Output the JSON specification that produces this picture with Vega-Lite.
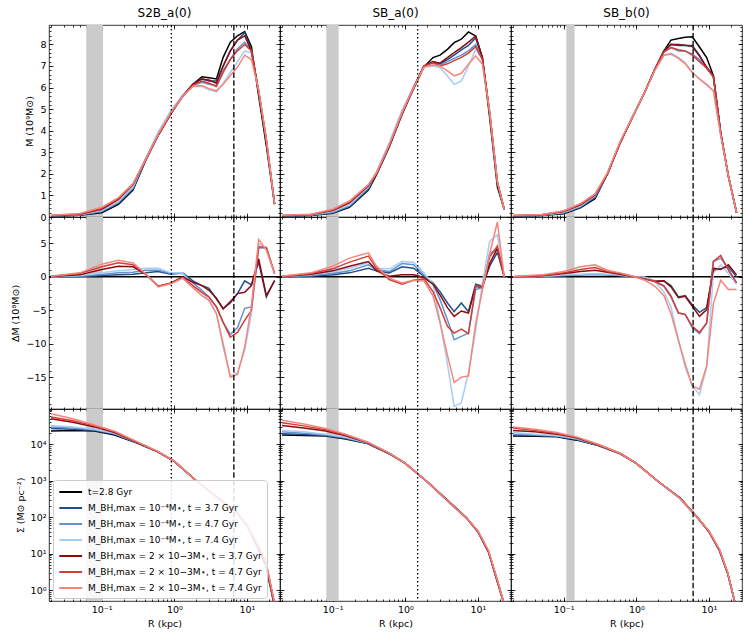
{
"$schema":"https://vega.github.io/schema/vega-lite/v6.json",
"background":"white",
"padding":{"left":10,"top":6,"right":5,"bottom":5},
"config":{
"font":"DejaVu Sans",
"view":{"stroke":"#000000","strokeWidth":0.8},
"axis":{"domain":false,"grid":false,"ticks":true,"tickColor":"#000000","tickSize":-4,"tickWidth":0.8,"labelColor":"#000000","labelFont":"DejaVu Sans","labelFontSize":9.5,"labelPadding":7,"labelOverlap":false,"labelFlush":false,"titleFont":"DejaVu Sans","titleFontSize":9.5,"titleFontWeight":"normal","titleColor":"#000000","titlePadding":5},
"title":{"font":"DejaVu Sans","fontSize":12,"fontWeight":"normal","color":"#000000","anchor":"middle","frame":"group","offset":4}
},
"datasets":{
"v":[{"c":1,"k":"band","r":0.0613,"r2":0.104},{"c":1,"k":"dot","r":0.91},{"c":1,"k":"dash","r":6.6},{"c":2,"k":"band","r":0.0817,"r2":0.121},{"c":2,"k":"dot","r":1.48},{"c":3,"k":"band","r":0.1087,"r2":0.141},{"c":3,"k":"dash","r":6.05}],
"z":[{"v":0}],
"ax":[{"r":1,"v":1}],
"m":[
{"c":1,"s":"a","r":0.02,"v":0.04},{"c":1,"s":"a","r":0.05,"v":0.08},{"c":1,"s":"a","r":0.1,"v":0.2},{"c":1,"s":"a","r":0.17,"v":0.58},{"c":1,"s":"a","r":0.27,"v":1.25},{"c":1,"s":"a","r":0.4,"v":2.6},{"c":1,"s":"a","r":0.6,"v":3.8},{"c":1,"s":"a","r":0.9,"v":4.8},{"c":1,"s":"a","r":1.3,"v":5.6},{"c":1,"s":"a","r":1.8,"v":6.15},{"c":1,"s":"a","r":2.4,"v":6.5},{"c":1,"s":"a","r":3,"v":6.45},{"c":1,"s":"a","r":3.8,"v":6.4},{"c":1,"s":"a","r":4.7,"v":7.4},{"c":1,"s":"a","r":5.9,"v":8.1},{"c":1,"s":"a","r":7.4,"v":8.4},{"c":1,"s":"a","r":9.3,"v":8.6},{"c":1,"s":"a","r":11.5,"v":7.9},{"c":1,"s":"a","r":14.5,"v":5.6},{"c":1,"s":"a","r":18.5,"v":3.3},{"c":1,"s":"a","r":24,"v":0.6},
{"c":1,"s":"b","r":0.02,"v":0.05},{"c":1,"s":"b","r":0.05,"v":0.09},{"c":1,"s":"b","r":0.1,"v":0.24},{"c":1,"s":"b","r":0.17,"v":0.64},{"c":1,"s":"b","r":0.27,"v":1.3},{"c":1,"s":"b","r":0.4,"v":2.62},{"c":1,"s":"b","r":0.6,"v":3.8},{"c":1,"s":"b","r":0.9,"v":4.8},{"c":1,"s":"b","r":1.3,"v":5.6},{"c":1,"s":"b","r":1.8,"v":6.15},{"c":1,"s":"b","r":2.4,"v":6.4},{"c":1,"s":"b","r":3,"v":6.3},{"c":1,"s":"b","r":3.8,"v":6.3},{"c":1,"s":"b","r":4.7,"v":7.0},{"c":1,"s":"b","r":5.9,"v":7.7},{"c":1,"s":"b","r":7.4,"v":8.2},{"c":1,"s":"b","r":9.3,"v":8.55},{"c":1,"s":"b","r":11.5,"v":7.7},{"c":1,"s":"b","r":14.5,"v":5.8},{"c":1,"s":"b","r":18.5,"v":3.5},{"c":1,"s":"b","r":24,"v":0.6},
{"c":1,"s":"c","r":0.02,"v":0.05},{"c":1,"s":"c","r":0.05,"v":0.1},{"c":1,"s":"c","r":0.1,"v":0.27},{"c":1,"s":"c","r":0.17,"v":0.68},{"c":1,"s":"c","r":0.27,"v":1.35},{"c":1,"s":"c","r":0.4,"v":2.65},{"c":1,"s":"c","r":0.6,"v":3.85},{"c":1,"s":"c","r":0.9,"v":4.85},{"c":1,"s":"c","r":1.3,"v":5.6},{"c":1,"s":"c","r":1.8,"v":6.1},{"c":1,"s":"c","r":2.4,"v":6.25},{"c":1,"s":"c","r":3,"v":6.15},{"c":1,"s":"c","r":3.8,"v":6.1},{"c":1,"s":"c","r":4.7,"v":6.8},{"c":1,"s":"c","r":5.9,"v":7.3},{"c":1,"s":"c","r":7.4,"v":7.8},{"c":1,"s":"c","r":9.3,"v":8.1},{"c":1,"s":"c","r":11.5,"v":7.7},{"c":1,"s":"c","r":14.5,"v":5.8},{"c":1,"s":"c","r":18.5,"v":3.6},{"c":1,"s":"c","r":24,"v":0.6},
{"c":1,"s":"d","r":0.02,"v":0.06},{"c":1,"s":"d","r":0.05,"v":0.11},{"c":1,"s":"d","r":0.1,"v":0.3},{"c":1,"s":"d","r":0.17,"v":0.72},{"c":1,"s":"d","r":0.27,"v":1.4},{"c":1,"s":"d","r":0.4,"v":2.7},{"c":1,"s":"d","r":0.6,"v":3.95},{"c":1,"s":"d","r":0.9,"v":4.95},{"c":1,"s":"d","r":1.3,"v":5.65},{"c":1,"s":"d","r":1.8,"v":6.05},{"c":1,"s":"d","r":2.4,"v":6.05},{"c":1,"s":"d","r":3,"v":5.9},{"c":1,"s":"d","r":3.8,"v":5.8},{"c":1,"s":"d","r":4.7,"v":6.2},{"c":1,"s":"d","r":5.9,"v":6.7},{"c":1,"s":"d","r":7.4,"v":7.2},{"c":1,"s":"d","r":9.3,"v":7.7},{"c":1,"s":"d","r":11.5,"v":7.6},{"c":1,"s":"d","r":14.5,"v":5.9},{"c":1,"s":"d","r":18.5,"v":3.6},{"c":1,"s":"d","r":24,"v":0.6},
{"c":1,"s":"e","r":0.02,"v":0.06},{"c":1,"s":"e","r":0.05,"v":0.13},{"c":1,"s":"e","r":0.1,"v":0.36},{"c":1,"s":"e","r":0.17,"v":0.82},{"c":1,"s":"e","r":0.27,"v":1.5},{"c":1,"s":"e","r":0.4,"v":2.65},{"c":1,"s":"e","r":0.6,"v":3.8},{"c":1,"s":"e","r":0.9,"v":4.8},{"c":1,"s":"e","r":1.3,"v":5.6},{"c":1,"s":"e","r":1.8,"v":6.15},{"c":1,"s":"e","r":2.4,"v":6.4},{"c":1,"s":"e","r":3,"v":6.35},{"c":1,"s":"e","r":3.8,"v":6.2},{"c":1,"s":"e","r":4.7,"v":7.0},{"c":1,"s":"e","r":5.9,"v":7.7},{"c":1,"s":"e","r":7.4,"v":8.2},{"c":1,"s":"e","r":9.3,"v":8.4},{"c":1,"s":"e","r":11.5,"v":7.7},{"c":1,"s":"e","r":14.5,"v":5.8},{"c":1,"s":"e","r":18.5,"v":3.5},{"c":1,"s":"e","r":24,"v":0.6},
{"c":1,"s":"f","r":0.02,"v":0.07},{"c":1,"s":"f","r":0.05,"v":0.14},{"c":1,"s":"f","r":0.1,"v":0.4},{"c":1,"s":"f","r":0.17,"v":0.86},{"c":1,"s":"f","r":0.27,"v":1.52},{"c":1,"s":"f","r":0.4,"v":2.65},{"c":1,"s":"f","r":0.6,"v":3.8},{"c":1,"s":"f","r":0.9,"v":4.8},{"c":1,"s":"f","r":1.3,"v":5.6},{"c":1,"s":"f","r":1.8,"v":6.1},{"c":1,"s":"f","r":2.4,"v":6.3},{"c":1,"s":"f","r":3,"v":6.2},{"c":1,"s":"f","r":3.8,"v":6.05},{"c":1,"s":"f","r":4.7,"v":6.7},{"c":1,"s":"f","r":5.9,"v":7.3},{"c":1,"s":"f","r":7.4,"v":7.7},{"c":1,"s":"f","r":9.3,"v":8.0},{"c":1,"s":"f","r":11.5,"v":7.7},{"c":1,"s":"f","r":14.5,"v":5.8},{"c":1,"s":"f","r":18.5,"v":3.6},{"c":1,"s":"f","r":24,"v":0.6},
{"c":1,"s":"g","r":0.02,"v":0.08},{"c":1,"s":"g","r":0.05,"v":0.16},{"c":1,"s":"g","r":0.1,"v":0.45},{"c":1,"s":"g","r":0.17,"v":0.9},{"c":1,"s":"g","r":0.27,"v":1.55},{"c":1,"s":"g","r":0.4,"v":2.65},{"c":1,"s":"g","r":0.6,"v":3.85},{"c":1,"s":"g","r":0.9,"v":4.85},{"c":1,"s":"g","r":1.3,"v":5.6},{"c":1,"s":"g","r":1.8,"v":6.05},{"c":1,"s":"g","r":2.4,"v":6.1},{"c":1,"s":"g","r":3,"v":5.95},{"c":1,"s":"g","r":3.8,"v":5.85},{"c":1,"s":"g","r":4.7,"v":6.15},{"c":1,"s":"g","r":5.9,"v":6.55},{"c":1,"s":"g","r":7.4,"v":6.95},{"c":1,"s":"g","r":9.3,"v":7.5},{"c":1,"s":"g","r":11.5,"v":7.3},{"c":1,"s":"g","r":14.5,"v":5.9},{"c":1,"s":"g","r":18.5,"v":3.6},{"c":1,"s":"g","r":24,"v":0.6},
{"c":2,"s":"a","r":0.02,"v":0.04},{"c":2,"s":"a","r":0.05,"v":0.07},{"c":2,"s":"a","r":0.1,"v":0.17},{"c":2,"s":"a","r":0.17,"v":0.45},{"c":2,"s":"a","r":0.31,"v":1.25},{"c":2,"s":"a","r":0.4,"v":1.95},{"c":2,"s":"a","r":0.6,"v":3.25},{"c":2,"s":"a","r":0.9,"v":4.75},{"c":2,"s":"a","r":1.3,"v":5.95},{"c":2,"s":"a","r":1.8,"v":6.95},{"c":2,"s":"a","r":2.4,"v":7.39},{"c":2,"s":"a","r":3,"v":7.5},{"c":2,"s":"a","r":3.8,"v":7.77},{"c":2,"s":"a","r":4.7,"v":8.08},{"c":2,"s":"a","r":5.9,"v":8.24},{"c":2,"s":"a","r":7.4,"v":8.58},{"c":2,"s":"a","r":9.3,"v":8.39},{"c":2,"s":"a","r":11.5,"v":7.39},{"c":2,"s":"a","r":14.5,"v":4.6},{"c":2,"s":"a","r":18.5,"v":1.4},{"c":2,"s":"a","r":23,"v":0.35},
{"c":2,"s":"b","r":0.02,"v":0.05},{"c":2,"s":"b","r":0.05,"v":0.08},{"c":2,"s":"b","r":0.1,"v":0.2},{"c":2,"s":"b","r":0.17,"v":0.48},{"c":2,"s":"b","r":0.31,"v":1.3},{"c":2,"s":"b","r":0.4,"v":2.0},{"c":2,"s":"b","r":0.6,"v":3.3},{"c":2,"s":"b","r":0.9,"v":4.8},{"c":2,"s":"b","r":1.3,"v":6.0},{"c":2,"s":"b","r":1.8,"v":7.0},{"c":2,"s":"b","r":2.4,"v":7.2},{"c":2,"s":"b","r":3,"v":7.1},{"c":2,"s":"b","r":3.8,"v":7.3},{"c":2,"s":"b","r":4.7,"v":7.5},{"c":2,"s":"b","r":5.9,"v":7.75},{"c":2,"s":"b","r":7.4,"v":7.95},{"c":2,"s":"b","r":9.3,"v":8.3},{"c":2,"s":"b","r":11.5,"v":7.35},{"c":2,"s":"b","r":14.5,"v":4.8},{"c":2,"s":"b","r":18.5,"v":1.6},{"c":2,"s":"b","r":23,"v":0.35},
{"c":2,"s":"c","r":0.02,"v":0.05},{"c":2,"s":"c","r":0.05,"v":0.09},{"c":2,"s":"c","r":0.1,"v":0.22},{"c":2,"s":"c","r":0.17,"v":0.52},{"c":2,"s":"c","r":0.31,"v":1.35},{"c":2,"s":"c","r":0.4,"v":2.05},{"c":2,"s":"c","r":0.6,"v":3.35},{"c":2,"s":"c","r":0.9,"v":4.85},{"c":2,"s":"c","r":1.3,"v":6.0},{"c":2,"s":"c","r":1.8,"v":7.0},{"c":2,"s":"c","r":2.4,"v":7.15},{"c":2,"s":"c","r":3,"v":7.05},{"c":2,"s":"c","r":3.8,"v":7.2},{"c":2,"s":"c","r":4.7,"v":7.35},{"c":2,"s":"c","r":5.9,"v":7.5},{"c":2,"s":"c","r":7.4,"v":7.7},{"c":2,"s":"c","r":9.3,"v":8.0},{"c":2,"s":"c","r":11.5,"v":7.3},{"c":2,"s":"c","r":14.5,"v":4.8},{"c":2,"s":"c","r":18.5,"v":1.6},{"c":2,"s":"c","r":23,"v":0.35},
{"c":2,"s":"d","r":0.02,"v":0.06},{"c":2,"s":"d","r":0.05,"v":0.1},{"c":2,"s":"d","r":0.1,"v":0.25},{"c":2,"s":"d","r":0.17,"v":0.56},{"c":2,"s":"d","r":0.31,"v":1.4},{"c":2,"s":"d","r":0.4,"v":2.1},{"c":2,"s":"d","r":0.6,"v":3.45},{"c":2,"s":"d","r":0.9,"v":4.95},{"c":2,"s":"d","r":1.3,"v":6.05},{"c":2,"s":"d","r":1.8,"v":6.95},{"c":2,"s":"d","r":2.4,"v":7.0},{"c":2,"s":"d","r":3,"v":6.92},{"c":2,"s":"d","r":3.8,"v":6.54},{"c":2,"s":"d","r":4.7,"v":6.15},{"c":2,"s":"d","r":5.9,"v":6.3},{"c":2,"s":"d","r":7.4,"v":7.0},{"c":2,"s":"d","r":9.3,"v":7.77},{"c":2,"s":"d","r":11.5,"v":7.31},{"c":2,"s":"d","r":14.5,"v":4.9},{"c":2,"s":"d","r":18.5,"v":1.65},{"c":2,"s":"d","r":23,"v":0.35},
{"c":2,"s":"e","r":0.02,"v":0.06},{"c":2,"s":"e","r":0.05,"v":0.11},{"c":2,"s":"e","r":0.1,"v":0.3},{"c":2,"s":"e","r":0.17,"v":0.66},{"c":2,"s":"e","r":0.31,"v":1.45},{"c":2,"s":"e","r":0.4,"v":2.0},{"c":2,"s":"e","r":0.6,"v":3.3},{"c":2,"s":"e","r":0.9,"v":4.8},{"c":2,"s":"e","r":1.3,"v":6.0},{"c":2,"s":"e","r":1.8,"v":7.0},{"c":2,"s":"e","r":2.4,"v":7.19},{"c":2,"s":"e","r":3,"v":7.13},{"c":2,"s":"e","r":3.8,"v":7.39},{"c":2,"s":"e","r":4.7,"v":7.62},{"c":2,"s":"e","r":5.9,"v":7.85},{"c":2,"s":"e","r":7.4,"v":8.11},{"c":2,"s":"e","r":9.3,"v":8.39},{"c":2,"s":"e","r":11.5,"v":7.39},{"c":2,"s":"e","r":14.5,"v":4.8},{"c":2,"s":"e","r":18.5,"v":1.6},{"c":2,"s":"e","r":23,"v":0.35},
{"c":2,"s":"f","r":0.02,"v":0.07},{"c":2,"s":"f","r":0.05,"v":0.12},{"c":2,"s":"f","r":0.1,"v":0.33},{"c":2,"s":"f","r":0.17,"v":0.7},{"c":2,"s":"f","r":0.31,"v":1.48},{"c":2,"s":"f","r":0.4,"v":2.0},{"c":2,"s":"f","r":0.6,"v":3.3},{"c":2,"s":"f","r":0.9,"v":4.8},{"c":2,"s":"f","r":1.3,"v":6.0},{"c":2,"s":"f","r":1.8,"v":7.0},{"c":2,"s":"f","r":2.4,"v":7.15},{"c":2,"s":"f","r":3,"v":7.0},{"c":2,"s":"f","r":3.8,"v":7.1},{"c":2,"s":"f","r":4.7,"v":7.25},{"c":2,"s":"f","r":5.9,"v":7.4},{"c":2,"s":"f","r":7.4,"v":7.6},{"c":2,"s":"f","r":9.3,"v":7.9},{"c":2,"s":"f","r":11.5,"v":7.3},{"c":2,"s":"f","r":14.5,"v":4.8},{"c":2,"s":"f","r":18.5,"v":1.6},{"c":2,"s":"f","r":23,"v":0.35},
{"c":2,"s":"g","r":0.02,"v":0.08},{"c":2,"s":"g","r":0.05,"v":0.13},{"c":2,"s":"g","r":0.1,"v":0.36},{"c":2,"s":"g","r":0.17,"v":0.74},{"c":2,"s":"g","r":0.31,"v":1.5},{"c":2,"s":"g","r":0.4,"v":2.05},{"c":2,"s":"g","r":0.6,"v":3.35},{"c":2,"s":"g","r":0.9,"v":4.85},{"c":2,"s":"g","r":1.3,"v":6.0},{"c":2,"s":"g","r":1.8,"v":6.95},{"c":2,"s":"g","r":2.4,"v":7.05},{"c":2,"s":"g","r":3,"v":7.0},{"c":2,"s":"g","r":3.8,"v":6.77},{"c":2,"s":"g","r":4.7,"v":6.54},{"c":2,"s":"g","r":5.9,"v":6.66},{"c":2,"s":"g","r":7.4,"v":7.08},{"c":2,"s":"g","r":9.3,"v":7.47},{"c":2,"s":"g","r":11.5,"v":7.08},{"c":2,"s":"g","r":14.5,"v":4.9},{"c":2,"s":"g","r":18.5,"v":1.65},{"c":2,"s":"g","r":23,"v":0.35},
{"c":3,"s":"a","r":0.02,"v":0.04},{"c":3,"s":"a","r":0.05,"v":0.07},{"c":3,"s":"a","r":0.1,"v":0.15},{"c":3,"s":"a","r":0.17,"v":0.42},{"c":3,"s":"a","r":0.27,"v":0.85},{"c":3,"s":"a","r":0.4,"v":2.0},{"c":3,"s":"a","r":0.6,"v":3.45},{"c":3,"s":"a","r":0.9,"v":4.68},{"c":3,"s":"a","r":1.3,"v":5.77},{"c":3,"s":"a","r":1.8,"v":6.85},{"c":3,"s":"a","r":2.4,"v":7.7},{"c":3,"s":"a","r":3,"v":8.2},{"c":3,"s":"a","r":3.8,"v":8.27},{"c":3,"s":"a","r":4.7,"v":8.33},{"c":3,"s":"a","r":5.9,"v":8.35},{"c":3,"s":"a","r":7.4,"v":7.88},{"c":3,"s":"a","r":9.3,"v":7.39},{"c":3,"s":"a","r":11.5,"v":6.55},{"c":3,"s":"a","r":14.5,"v":3.9},{"c":3,"s":"a","r":18.5,"v":1.9},{"c":3,"s":"a","r":24,"v":0.2},
{"c":3,"s":"b","r":0.02,"v":0.05},{"c":3,"s":"b","r":0.05,"v":0.08},{"c":3,"s":"b","r":0.1,"v":0.18},{"c":3,"s":"b","r":0.17,"v":0.45},{"c":3,"s":"b","r":0.27,"v":0.9},{"c":3,"s":"b","r":0.4,"v":2.0},{"c":3,"s":"b","r":0.6,"v":3.45},{"c":3,"s":"b","r":0.9,"v":4.68},{"c":3,"s":"b","r":1.3,"v":5.77},{"c":3,"s":"b","r":1.8,"v":6.85},{"c":3,"s":"b","r":2.4,"v":7.7},{"c":3,"s":"b","r":3,"v":8.0},{"c":3,"s":"b","r":3.8,"v":7.95},{"c":3,"s":"b","r":4.7,"v":7.95},{"c":3,"s":"b","r":5.9,"v":7.95},{"c":3,"s":"b","r":7.4,"v":7.5},{"c":3,"s":"b","r":9.3,"v":6.9},{"c":3,"s":"b","r":11.5,"v":6.5},{"c":3,"s":"b","r":14.5,"v":3.9},{"c":3,"s":"b","r":18.5,"v":1.9},{"c":3,"s":"b","r":24,"v":0.2},
{"c":3,"s":"c","r":0.02,"v":0.05},{"c":3,"s":"c","r":0.05,"v":0.08},{"c":3,"s":"c","r":0.1,"v":0.2},{"c":3,"s":"c","r":0.17,"v":0.48},{"c":3,"s":"c","r":0.27,"v":0.95},{"c":3,"s":"c","r":0.4,"v":2.0},{"c":3,"s":"c","r":0.6,"v":3.45},{"c":3,"s":"c","r":0.9,"v":4.68},{"c":3,"s":"c","r":1.3,"v":5.77},{"c":3,"s":"c","r":1.8,"v":6.85},{"c":3,"s":"c","r":2.4,"v":7.65},{"c":3,"s":"c","r":3,"v":7.85},{"c":3,"s":"c","r":3.8,"v":7.7},{"c":3,"s":"c","r":4.7,"v":7.7},{"c":3,"s":"c","r":5.9,"v":7.55},{"c":3,"s":"c","r":7.4,"v":7.3},{"c":3,"s":"c","r":9.3,"v":6.9},{"c":3,"s":"c","r":11.5,"v":6.5},{"c":3,"s":"c","r":14.5,"v":3.9},{"c":3,"s":"c","r":18.5,"v":1.9},{"c":3,"s":"c","r":24,"v":0.2},
{"c":3,"s":"d","r":0.02,"v":0.06},{"c":3,"s":"d","r":0.05,"v":0.09},{"c":3,"s":"d","r":0.1,"v":0.22},{"c":3,"s":"d","r":0.17,"v":0.52},{"c":3,"s":"d","r":0.27,"v":1.0},{"c":3,"s":"d","r":0.4,"v":2.05},{"c":3,"s":"d","r":0.6,"v":3.5},{"c":3,"s":"d","r":0.9,"v":4.7},{"c":3,"s":"d","r":1.3,"v":5.77},{"c":3,"s":"d","r":1.8,"v":6.8},{"c":3,"s":"d","r":2.4,"v":7.5},{"c":3,"s":"d","r":3,"v":7.6},{"c":3,"s":"d","r":3.8,"v":7.4},{"c":3,"s":"d","r":4.7,"v":7.16},{"c":3,"s":"d","r":5.9,"v":6.7},{"c":3,"s":"d","r":7.4,"v":6.4},{"c":3,"s":"d","r":9.3,"v":6.1},{"c":3,"s":"d","r":11.5,"v":5.85},{"c":3,"s":"d","r":14.5,"v":3.8},{"c":3,"s":"d","r":18.5,"v":1.9},{"c":3,"s":"d","r":24,"v":0.2},
{"c":3,"s":"e","r":0.02,"v":0.06},{"c":3,"s":"e","r":0.05,"v":0.1},{"c":3,"s":"e","r":0.1,"v":0.25},{"c":3,"s":"e","r":0.17,"v":0.56},{"c":3,"s":"e","r":0.27,"v":1.02},{"c":3,"s":"e","r":0.4,"v":2.0},{"c":3,"s":"e","r":0.6,"v":3.45},{"c":3,"s":"e","r":0.9,"v":4.68},{"c":3,"s":"e","r":1.3,"v":5.77},{"c":3,"s":"e","r":1.8,"v":6.85},{"c":3,"s":"e","r":2.4,"v":7.7},{"c":3,"s":"e","r":3,"v":8.0},{"c":3,"s":"e","r":3.8,"v":8.0},{"c":3,"s":"e","r":4.7,"v":7.96},{"c":3,"s":"e","r":5.9,"v":7.9},{"c":3,"s":"e","r":7.4,"v":7.46},{"c":3,"s":"e","r":9.3,"v":6.95},{"c":3,"s":"e","r":11.5,"v":6.55},{"c":3,"s":"e","r":14.5,"v":3.9},{"c":3,"s":"e","r":18.5,"v":1.9},{"c":3,"s":"e","r":24,"v":0.2},
{"c":3,"s":"f","r":0.02,"v":0.07},{"c":3,"s":"f","r":0.05,"v":0.11},{"c":3,"s":"f","r":0.1,"v":0.27},{"c":3,"s":"f","r":0.17,"v":0.6},{"c":3,"s":"f","r":0.27,"v":1.05},{"c":3,"s":"f","r":0.4,"v":2.0},{"c":3,"s":"f","r":0.6,"v":3.45},{"c":3,"s":"f","r":0.9,"v":4.68},{"c":3,"s":"f","r":1.3,"v":5.77},{"c":3,"s":"f","r":1.8,"v":6.85},{"c":3,"s":"f","r":2.4,"v":7.65},{"c":3,"s":"f","r":3,"v":7.85},{"c":3,"s":"f","r":3.8,"v":7.75},{"c":3,"s":"f","r":4.7,"v":7.7},{"c":3,"s":"f","r":5.9,"v":7.5},{"c":3,"s":"f","r":7.4,"v":7.2},{"c":3,"s":"f","r":9.3,"v":6.9},{"c":3,"s":"f","r":11.5,"v":6.5},{"c":3,"s":"f","r":14.5,"v":3.9},{"c":3,"s":"f","r":18.5,"v":1.9},{"c":3,"s":"f","r":24,"v":0.2},
{"c":3,"s":"g","r":0.02,"v":0.08},{"c":3,"s":"g","r":0.05,"v":0.12},{"c":3,"s":"g","r":0.1,"v":0.29},{"c":3,"s":"g","r":0.17,"v":0.62},{"c":3,"s":"g","r":0.27,"v":1.07},{"c":3,"s":"g","r":0.4,"v":2.05},{"c":3,"s":"g","r":0.6,"v":3.5},{"c":3,"s":"g","r":0.9,"v":4.7},{"c":3,"s":"g","r":1.3,"v":5.77},{"c":3,"s":"g","r":1.8,"v":6.8},{"c":3,"s":"g","r":2.4,"v":7.5},{"c":3,"s":"g","r":3,"v":7.55},{"c":3,"s":"g","r":3.8,"v":7.35},{"c":3,"s":"g","r":4.7,"v":7.1},{"c":3,"s":"g","r":5.9,"v":6.7},{"c":3,"s":"g","r":7.4,"v":6.4},{"c":3,"s":"g","r":9.3,"v":6.15},{"c":3,"s":"g","r":11.5,"v":5.85},{"c":3,"s":"g","r":14.5,"v":3.8},{"c":3,"s":"g","r":18.5,"v":1.9},{"c":3,"s":"g","r":24,"v":0.2}
],
"d":[
{"c":1,"s":"b","r":0.02,"v":0},{"c":1,"s":"b","r":0.05,"v":0.05},{"c":1,"s":"b","r":0.1,"v":0.2},{"c":1,"s":"b","r":0.17,"v":0.3},{"c":1,"s":"b","r":0.27,"v":0.4},{"c":1,"s":"b","r":0.4,"v":0.6},{"c":1,"s":"b","r":0.6,"v":0.8},{"c":1,"s":"b","r":0.9,"v":0.4},{"c":1,"s":"b","r":1.3,"v":0.6},{"c":1,"s":"b","r":1.8,"v":-0.6},{"c":1,"s":"b","r":2.4,"v":-1.3},{"c":1,"s":"b","r":3,"v":-1.7},{"c":1,"s":"b","r":3.8,"v":-3.3},{"c":1,"s":"b","r":4.7,"v":-4.7},{"c":1,"s":"b","r":5.9,"v":-3.9},{"c":1,"s":"b","r":7.4,"v":-2.5},{"c":1,"s":"b","r":9.3,"v":-0.6},{"c":1,"s":"b","r":11.5,"v":-1.2},{"c":1,"s":"b","r":14.5,"v":2.2},{"c":1,"s":"b","r":18.5,"v":-3.0},{"c":1,"s":"b","r":24,"v":-0.5},
{"c":1,"s":"c","r":0.02,"v":0},{"c":1,"s":"c","r":0.05,"v":0.1},{"c":1,"s":"c","r":0.1,"v":0.35},{"c":1,"s":"c","r":0.17,"v":0.6},{"c":1,"s":"c","r":0.27,"v":0.7},{"c":1,"s":"c","r":0.4,"v":1.0},{"c":1,"s":"c","r":0.6,"v":1.0},{"c":1,"s":"c","r":0.9,"v":0.5},{"c":1,"s":"c","r":1.3,"v":0.5},{"c":1,"s":"c","r":1.8,"v":-0.9},{"c":1,"s":"c","r":2.4,"v":-2.0},{"c":1,"s":"c","r":3,"v":-3.0},{"c":1,"s":"c","r":3.8,"v":-4.5},{"c":1,"s":"c","r":4.7,"v":-6.8},{"c":1,"s":"c","r":5.9,"v":-8.6},{"c":1,"s":"c","r":7.4,"v":-7.6},{"c":1,"s":"c","r":9.3,"v":-4.7},{"c":1,"s":"c","r":11.5,"v":-4.5},{"c":1,"s":"c","r":14.5,"v":4.3},{"c":1,"s":"c","r":18.5,"v":4.3},{"c":1,"s":"c","r":24,"v":0.5},
{"c":1,"s":"d","r":0.02,"v":0},{"c":1,"s":"d","r":0.05,"v":0.2},{"c":1,"s":"d","r":0.1,"v":0.6},{"c":1,"s":"d","r":0.17,"v":0.9},{"c":1,"s":"d","r":0.27,"v":1.1},{"c":1,"s":"d","r":0.4,"v":1.3},{"c":1,"s":"d","r":0.6,"v":1.3},{"c":1,"s":"d","r":0.9,"v":0.6},{"c":1,"s":"d","r":1.3,"v":0.6},{"c":1,"s":"d","r":1.8,"v":-1.5},{"c":1,"s":"d","r":2.4,"v":-2.3},{"c":1,"s":"d","r":3,"v":-3.5},{"c":1,"s":"d","r":3.8,"v":-5.5},{"c":1,"s":"d","r":4.7,"v":-10.5},{"c":1,"s":"d","r":5.9,"v":-14.8},{"c":1,"s":"d","r":7.4,"v":-14.3},{"c":1,"s":"d","r":9.3,"v":-11.0},{"c":1,"s":"d","r":11.5,"v":-5.5},{"c":1,"s":"d","r":14.5,"v":5.0},{"c":1,"s":"d","r":18.5,"v":4.2},{"c":1,"s":"d","r":24,"v":0.5},
{"c":1,"s":"e","r":0.02,"v":0.05},{"c":1,"s":"e","r":0.05,"v":0.3},{"c":1,"s":"e","r":0.1,"v":1.1},{"c":1,"s":"e","r":0.17,"v":1.6},{"c":1,"s":"e","r":0.27,"v":1.5},{"c":1,"s":"e","r":0.4,"v":0.4},{"c":1,"s":"e","r":0.6,"v":-1.4},{"c":1,"s":"e","r":0.9,"v":-0.9},{"c":1,"s":"e","r":1.3,"v":0.0},{"c":1,"s":"e","r":1.8,"v":-0.8},{"c":1,"s":"e","r":2.4,"v":-1.3},{"c":1,"s":"e","r":3,"v":-2.0},{"c":1,"s":"e","r":3.8,"v":-3.2},{"c":1,"s":"e","r":4.7,"v":-4.8},{"c":1,"s":"e","r":5.9,"v":-3.7},{"c":1,"s":"e","r":7.4,"v":-2.5},{"c":1,"s":"e","r":9.3,"v":-2.3},{"c":1,"s":"e","r":11.5,"v":-1.3},{"c":1,"s":"e","r":14.5,"v":2.7},{"c":1,"s":"e","r":18.5,"v":-2.8},{"c":1,"s":"e","r":24,"v":-0.6},
{"c":1,"s":"f","r":0.02,"v":0.1},{"c":1,"s":"f","r":0.05,"v":0.5},{"c":1,"s":"f","r":0.1,"v":1.5},{"c":1,"s":"f","r":0.17,"v":2.1},{"c":1,"s":"f","r":0.27,"v":1.8},{"c":1,"s":"f","r":0.4,"v":0.45},{"c":1,"s":"f","r":0.6,"v":-1.4},{"c":1,"s":"f","r":0.9,"v":-1.0},{"c":1,"s":"f","r":1.3,"v":-0.1},{"c":1,"s":"f","r":1.8,"v":-1.3},{"c":1,"s":"f","r":2.4,"v":-2.3},{"c":1,"s":"f","r":3,"v":-3.0},{"c":1,"s":"f","r":3.8,"v":-4.5},{"c":1,"s":"f","r":4.7,"v":-6.8},{"c":1,"s":"f","r":5.9,"v":-9.0},{"c":1,"s":"f","r":7.4,"v":-8.3},{"c":1,"s":"f","r":9.3,"v":-6.5},{"c":1,"s":"f","r":11.5,"v":-5.0},{"c":1,"s":"f","r":14.5,"v":4.5},{"c":1,"s":"f","r":18.5,"v":4.4},{"c":1,"s":"f","r":24,"v":0.5},
{"c":1,"s":"g","r":0.02,"v":0.1},{"c":1,"s":"g","r":0.05,"v":0.6},{"c":1,"s":"g","r":0.1,"v":1.9},{"c":1,"s":"g","r":0.17,"v":2.5},{"c":1,"s":"g","r":0.27,"v":2.1},{"c":1,"s":"g","r":0.4,"v":0.5},{"c":1,"s":"g","r":0.6,"v":-1.5},{"c":1,"s":"g","r":0.9,"v":-1.0},{"c":1,"s":"g","r":1.3,"v":-0.2},{"c":1,"s":"g","r":1.8,"v":-1.6},{"c":1,"s":"g","r":2.4,"v":-2.8},{"c":1,"s":"g","r":3,"v":-3.5},{"c":1,"s":"g","r":3.8,"v":-5.5},{"c":1,"s":"g","r":4.7,"v":-10.0},{"c":1,"s":"g","r":5.9,"v":-15.0},{"c":1,"s":"g","r":7.4,"v":-14.6},{"c":1,"s":"g","r":9.3,"v":-10.5},{"c":1,"s":"g","r":11.5,"v":-4.5},{"c":1,"s":"g","r":14.5,"v":5.6},{"c":1,"s":"g","r":18.5,"v":4.0},{"c":1,"s":"g","r":24,"v":0.5},
{"c":2,"s":"b","r":0.02,"v":0.02},{"c":2,"s":"b","r":0.05,"v":0.1},{"c":2,"s":"b","r":0.1,"v":0.3},{"c":2,"s":"b","r":0.17,"v":0.6},{"c":2,"s":"b","r":0.31,"v":1.3},{"c":2,"s":"b","r":0.4,"v":0.9},{"c":2,"s":"b","r":0.6,"v":0.6},{"c":2,"s":"b","r":0.9,"v":1.5},{"c":2,"s":"b","r":1.3,"v":1.3},{"c":2,"s":"b","r":1.8,"v":0.1},{"c":2,"s":"b","r":2.4,"v":-0.9},{"c":2,"s":"b","r":3,"v":-2.2},{"c":2,"s":"b","r":3.8,"v":-3.9},{"c":2,"s":"b","r":4.7,"v":-5.2},{"c":2,"s":"b","r":5.9,"v":-3.9},{"c":2,"s":"b","r":7.4,"v":-5.2},{"c":2,"s":"b","r":9.3,"v":-1.1},{"c":2,"s":"b","r":11.5,"v":-1.4},{"c":2,"s":"b","r":14.5,"v":1.6},{"c":2,"s":"b","r":18.5,"v":3.7},{"c":2,"s":"b","r":23,"v":0},
{"c":2,"s":"c","r":0.02,"v":0.03},{"c":2,"s":"c","r":0.05,"v":0.2},{"c":2,"s":"c","r":0.1,"v":0.5},{"c":2,"s":"c","r":0.17,"v":0.9},{"c":2,"s":"c","r":0.31,"v":1.8},{"c":2,"s":"c","r":0.4,"v":1.1},{"c":2,"s":"c","r":0.6,"v":0.8},{"c":2,"s":"c","r":0.9,"v":2.0},{"c":2,"s":"c","r":1.3,"v":1.8},{"c":2,"s":"c","r":1.8,"v":0.3},{"c":2,"s":"c","r":2.4,"v":-1.0},{"c":2,"s":"c","r":3,"v":-3.4},{"c":2,"s":"c","r":3.8,"v":-6.4},{"c":2,"s":"c","r":4.7,"v":-9.4},{"c":2,"s":"c","r":5.9,"v":-8.9},{"c":2,"s":"c","r":7.4,"v":-8.4},{"c":2,"s":"c","r":9.3,"v":-1.9},{"c":2,"s":"c","r":11.5,"v":-1.6},{"c":2,"s":"c","r":14.5,"v":3.5},{"c":2,"s":"c","r":18.5,"v":4.1},{"c":2,"s":"c","r":23,"v":0},
{"c":2,"s":"d","r":0.02,"v":0.05},{"c":2,"s":"d","r":0.05,"v":0.3},{"c":2,"s":"d","r":0.1,"v":0.8},{"c":2,"s":"d","r":0.17,"v":1.3},{"c":2,"s":"d","r":0.31,"v":2.1},{"c":2,"s":"d","r":0.4,"v":1.3},{"c":2,"s":"d","r":0.6,"v":1.2},{"c":2,"s":"d","r":0.9,"v":2.3},{"c":2,"s":"d","r":1.3,"v":2.2},{"c":2,"s":"d","r":1.8,"v":0.6},{"c":2,"s":"d","r":2.4,"v":-1.1},{"c":2,"s":"d","r":3,"v":-6.6},{"c":2,"s":"d","r":3.8,"v":-13.0},{"c":2,"s":"d","r":4.7,"v":-19.4},{"c":2,"s":"d","r":5.9,"v":-18.8},{"c":2,"s":"d","r":7.4,"v":-14.3},{"c":2,"s":"d","r":9.3,"v":-8.0},{"c":2,"s":"d","r":11.5,"v":-1.0},{"c":2,"s":"d","r":14.5,"v":5.3},{"c":2,"s":"d","r":18.5,"v":6.3},{"c":2,"s":"d","r":23,"v":0},
{"c":2,"s":"e","r":0.02,"v":0.05},{"c":2,"s":"e","r":0.05,"v":0.4},{"c":2,"s":"e","r":0.1,"v":0.9},{"c":2,"s":"e","r":0.17,"v":1.6},{"c":2,"s":"e","r":0.31,"v":2.3},{"c":2,"s":"e","r":0.4,"v":0.9},{"c":2,"s":"e","r":0.6,"v":0.1},{"c":2,"s":"e","r":0.9,"v":0.3},{"c":2,"s":"e","r":1.3,"v":0.3},{"c":2,"s":"e","r":1.8,"v":-0.1},{"c":2,"s":"e","r":2.4,"v":-1.1},{"c":2,"s":"e","r":3,"v":-2.7},{"c":2,"s":"e","r":3.8,"v":-4.6},{"c":2,"s":"e","r":4.7,"v":-5.9},{"c":2,"s":"e","r":5.9,"v":-5.1},{"c":2,"s":"e","r":7.4,"v":-5.4},{"c":2,"s":"e","r":9.3,"v":-1.4},{"c":2,"s":"e","r":11.5,"v":-1.6},{"c":2,"s":"e","r":14.5,"v":2.0},{"c":2,"s":"e","r":18.5,"v":4.3},{"c":2,"s":"e","r":23,"v":0},
{"c":2,"s":"f","r":0.02,"v":0.1},{"c":2,"s":"f","r":0.05,"v":0.5},{"c":2,"s":"f","r":0.1,"v":1.2},{"c":2,"s":"f","r":0.17,"v":2.2},{"c":2,"s":"f","r":0.31,"v":3.1},{"c":2,"s":"f","r":0.4,"v":1.3},{"c":2,"s":"f","r":0.6,"v":-0.4},{"c":2,"s":"f","r":0.9,"v":-1.1},{"c":2,"s":"f","r":1.3,"v":-0.5},{"c":2,"s":"f","r":1.8,"v":-0.3},{"c":2,"s":"f","r":2.4,"v":-2.2},{"c":2,"s":"f","r":3,"v":-4.6},{"c":2,"s":"f","r":3.8,"v":-7.4},{"c":2,"s":"f","r":4.7,"v":-8.4},{"c":2,"s":"f","r":5.9,"v":-7.8},{"c":2,"s":"f","r":7.4,"v":-8.5},{"c":2,"s":"f","r":9.3,"v":-1.4},{"c":2,"s":"f","r":11.5,"v":-1.6},{"c":2,"s":"f","r":14.5,"v":3.0},{"c":2,"s":"f","r":18.5,"v":4.6},{"c":2,"s":"f","r":23,"v":0},
{"c":2,"s":"g","r":0.02,"v":0.1},{"c":2,"s":"g","r":0.05,"v":0.6},{"c":2,"s":"g","r":0.1,"v":1.6},{"c":2,"s":"g","r":0.17,"v":2.8},{"c":2,"s":"g","r":0.31,"v":3.6},{"c":2,"s":"g","r":0.4,"v":1.6},{"c":2,"s":"g","r":0.6,"v":-0.2},{"c":2,"s":"g","r":0.9,"v":-0.9},{"c":2,"s":"g","r":1.3,"v":-0.5},{"c":2,"s":"g","r":1.8,"v":-0.6},{"c":2,"s":"g","r":2.4,"v":-2.8},{"c":2,"s":"g","r":3,"v":-6.8},{"c":2,"s":"g","r":3.8,"v":-11.7},{"c":2,"s":"g","r":4.7,"v":-15.8},{"c":2,"s":"g","r":5.9,"v":-15.0},{"c":2,"s":"g","r":7.4,"v":-14.8},{"c":2,"s":"g","r":9.3,"v":-7.0},{"c":2,"s":"g","r":11.5,"v":-2.0},{"c":2,"s":"g","r":14.5,"v":3.5},{"c":2,"s":"g","r":18.5,"v":8.2},{"c":2,"s":"g","r":23,"v":0},
{"c":3,"s":"b","r":0.02,"v":0.01},{"c":3,"s":"b","r":0.05,"v":0.05},{"c":3,"s":"b","r":0.1,"v":0.15},{"c":3,"s":"b","r":0.17,"v":0.3},{"c":3,"s":"b","r":0.27,"v":0.4},{"c":3,"s":"b","r":0.4,"v":0.3},{"c":3,"s":"b","r":0.6,"v":0.2},{"c":3,"s":"b","r":0.9,"v":0.0},{"c":3,"s":"b","r":1.3,"v":-0.2},{"c":3,"s":"b","r":1.8,"v":-0.6},{"c":3,"s":"b","r":2.4,"v":-0.6},{"c":3,"s":"b","r":3,"v":-1.3},{"c":3,"s":"b","r":3.8,"v":-3.0},{"c":3,"s":"b","r":4.7,"v":-2.8},{"c":3,"s":"b","r":5.9,"v":-4.2},{"c":3,"s":"b","r":7.4,"v":-5.3},{"c":3,"s":"b","r":9.3,"v":-4.6},{"c":3,"s":"b","r":11.5,"v":1.0},{"c":3,"s":"b","r":14.5,"v":1.2},{"c":3,"s":"b","r":18.5,"v":1.5},{"c":3,"s":"b","r":24,"v":0.0},
{"c":3,"s":"c","r":0.02,"v":0.02},{"c":3,"s":"c","r":0.05,"v":0.1},{"c":3,"s":"c","r":0.1,"v":0.2},{"c":3,"s":"c","r":0.17,"v":0.3},{"c":3,"s":"c","r":0.27,"v":0.4},{"c":3,"s":"c","r":0.4,"v":0.3},{"c":3,"s":"c","r":0.6,"v":0.2},{"c":3,"s":"c","r":0.9,"v":0.0},{"c":3,"s":"c","r":1.3,"v":-0.1},{"c":3,"s":"c","r":1.8,"v":-0.6},{"c":3,"s":"c","r":2.4,"v":-1.3},{"c":3,"s":"c","r":3,"v":-2.8},{"c":3,"s":"c","r":3.8,"v":-5.4},{"c":3,"s":"c","r":4.7,"v":-5.6},{"c":3,"s":"c","r":5.9,"v":-7.6},{"c":3,"s":"c","r":7.4,"v":-8.5},{"c":3,"s":"c","r":9.3,"v":-6.9},{"c":3,"s":"c","r":11.5,"v":2.3},{"c":3,"s":"c","r":14.5,"v":2.8},{"c":3,"s":"c","r":18.5,"v":1.2},{"c":3,"s":"c","r":24,"v":-0.9},
{"c":3,"s":"d","r":0.02,"v":0.02},{"c":3,"s":"d","r":0.05,"v":0.1},{"c":3,"s":"d","r":0.1,"v":0.3},{"c":3,"s":"d","r":0.17,"v":0.4},{"c":3,"s":"d","r":0.27,"v":0.5},{"c":3,"s":"d","r":0.4,"v":0.4},{"c":3,"s":"d","r":0.6,"v":0.3},{"c":3,"s":"d","r":0.9,"v":0.0},{"c":3,"s":"d","r":1.3,"v":0.0},{"c":3,"s":"d","r":1.8,"v":-0.7},{"c":3,"s":"d","r":2.4,"v":-2.3},{"c":3,"s":"d","r":3,"v":-4.5},{"c":3,"s":"d","r":3.8,"v":-9.4},{"c":3,"s":"d","r":4.7,"v":-13.5},{"c":3,"s":"d","r":5.9,"v":-16.3},{"c":3,"s":"d","r":7.4,"v":-17.6},{"c":3,"s":"d","r":9.3,"v":-13.5},{"c":3,"s":"d","r":11.5,"v":0.5},{"c":3,"s":"d","r":14.5,"v":1.8},{"c":3,"s":"d","r":18.5,"v":0.5},{"c":3,"s":"d","r":24,"v":-1.1},
{"c":3,"s":"e","r":0.02,"v":0.03},{"c":3,"s":"e","r":0.05,"v":0.15},{"c":3,"s":"e","r":0.1,"v":0.5},{"c":3,"s":"e","r":0.17,"v":0.8},{"c":3,"s":"e","r":0.27,"v":1.0},{"c":3,"s":"e","r":0.4,"v":0.7},{"c":3,"s":"e","r":0.6,"v":0.4},{"c":3,"s":"e","r":0.9,"v":0.0},{"c":3,"s":"e","r":1.3,"v":-0.3},{"c":3,"s":"e","r":1.8,"v":-0.7},{"c":3,"s":"e","r":2.4,"v":-0.6},{"c":3,"s":"e","r":3,"v":-1.5},{"c":3,"s":"e","r":3.8,"v":-3.1},{"c":3,"s":"e","r":4.7,"v":-2.9},{"c":3,"s":"e","r":5.9,"v":-4.4},{"c":3,"s":"e","r":7.4,"v":-5.9},{"c":3,"s":"e","r":9.3,"v":-4.9},{"c":3,"s":"e","r":11.5,"v":1.3},{"c":3,"s":"e","r":14.5,"v":1.1},{"c":3,"s":"e","r":18.5,"v":1.8},{"c":3,"s":"e","r":24,"v":0.3},
{"c":3,"s":"f","r":0.02,"v":0.03},{"c":3,"s":"f","r":0.05,"v":0.2},{"c":3,"s":"f","r":0.1,"v":0.6},{"c":3,"s":"f","r":0.17,"v":1.1},{"c":3,"s":"f","r":0.27,"v":1.4},{"c":3,"s":"f","r":0.4,"v":0.8},{"c":3,"s":"f","r":0.6,"v":0.5},{"c":3,"s":"f","r":0.9,"v":0.1},{"c":3,"s":"f","r":1.3,"v":-0.3},{"c":3,"s":"f","r":1.8,"v":-0.7},{"c":3,"s":"f","r":2.4,"v":-1.4},{"c":3,"s":"f","r":3,"v":-3.0},{"c":3,"s":"f","r":3.8,"v":-5.4},{"c":3,"s":"f","r":4.7,"v":-5.6},{"c":3,"s":"f","r":5.9,"v":-7.4},{"c":3,"s":"f","r":7.4,"v":-8.3},{"c":3,"s":"f","r":9.3,"v":-6.9},{"c":3,"s":"f","r":11.5,"v":2.3},{"c":3,"s":"f","r":14.5,"v":3.2},{"c":3,"s":"f","r":18.5,"v":1.0},{"c":3,"s":"f","r":24,"v":-0.9},
{"c":3,"s":"g","r":0.02,"v":0.05},{"c":3,"s":"g","r":0.05,"v":0.3},{"c":3,"s":"g","r":0.1,"v":0.8},{"c":3,"s":"g","r":0.17,"v":1.5},{"c":3,"s":"g","r":0.27,"v":1.8},{"c":3,"s":"g","r":0.4,"v":1.0},{"c":3,"s":"g","r":0.6,"v":0.6},{"c":3,"s":"g","r":0.9,"v":0.1},{"c":3,"s":"g","r":1.3,"v":-0.5},{"c":3,"s":"g","r":1.8,"v":-1.4},{"c":3,"s":"g","r":2.4,"v":-2.8},{"c":3,"s":"g","r":3,"v":-5.5},{"c":3,"s":"g","r":3.8,"v":-9.5},{"c":3,"s":"g","r":4.7,"v":-13.0},{"c":3,"s":"g","r":5.9,"v":-16.3},{"c":3,"s":"g","r":7.4,"v":-16.8},{"c":3,"s":"g","r":9.3,"v":-13.3},{"c":3,"s":"g","r":11.5,"v":-4.0},{"c":3,"s":"g","r":14.5,"v":-0.5},{"c":3,"s":"g","r":18.5,"v":-1.9},{"c":3,"s":"g","r":24,"v":-1.9}
],
"s3":[
{"c":1,"s":"a","r":0.02,"v":23000},{"c":1,"s":"a","r":0.04,"v":24000},{"c":1,"s":"a","r":0.08,"v":23000},{"c":1,"s":"a","r":0.15,"v":18000},{"c":1,"s":"a","r":0.3,"v":11000},{"c":1,"s":"a","r":0.6,"v":6100},{"c":1,"s":"a","r":1,"v":3400},{"c":1,"s":"a","r":2,"v":1000},{"c":1,"s":"a","r":4,"v":340},{"c":1,"s":"a","r":7,"v":145},{"c":1,"s":"a","r":10,"v":58},{"c":1,"s":"a","r":14,"v":15},{"c":1,"s":"a","r":18,"v":5},{"c":1,"s":"a","r":24,"v":0.35},
{"c":1,"s":"b","r":0.02,"v":27000},{"c":1,"s":"b","r":0.04,"v":26000},{"c":1,"s":"b","r":0.08,"v":24000},{"c":1,"s":"b","r":0.15,"v":19000},{"c":1,"s":"b","r":0.3,"v":11300},{"c":1,"s":"b","r":0.6,"v":6200},{"c":1,"s":"b","r":1,"v":3400},{"c":1,"s":"b","r":2,"v":1000},{"c":1,"s":"b","r":4,"v":330},{"c":1,"s":"b","r":7,"v":140},{"c":1,"s":"b","r":10,"v":60},{"c":1,"s":"b","r":14,"v":17},{"c":1,"s":"b","r":18,"v":6},{"c":1,"s":"b","r":24,"v":0.4},
{"c":1,"s":"c","r":0.02,"v":30000},{"c":1,"s":"c","r":0.04,"v":28000},{"c":1,"s":"c","r":0.08,"v":25000},{"c":1,"s":"c","r":0.15,"v":19500},{"c":1,"s":"c","r":0.3,"v":11400},{"c":1,"s":"c","r":0.6,"v":6200},{"c":1,"s":"c","r":1,"v":3450},{"c":1,"s":"c","r":2,"v":1000},{"c":1,"s":"c","r":4,"v":330},{"c":1,"s":"c","r":7,"v":140},{"c":1,"s":"c","r":10,"v":60},{"c":1,"s":"c","r":14,"v":17},{"c":1,"s":"c","r":18,"v":6},{"c":1,"s":"c","r":24,"v":0.4},
{"c":1,"s":"d","r":0.02,"v":33000},{"c":1,"s":"d","r":0.04,"v":30000},{"c":1,"s":"d","r":0.08,"v":26000},{"c":1,"s":"d","r":0.15,"v":20000},{"c":1,"s":"d","r":0.3,"v":11600},{"c":1,"s":"d","r":0.6,"v":6300},{"c":1,"s":"d","r":1,"v":3500},{"c":1,"s":"d","r":2,"v":1000},{"c":1,"s":"d","r":4,"v":320},{"c":1,"s":"d","r":7,"v":135},{"c":1,"s":"d","r":10,"v":60},{"c":1,"s":"d","r":14,"v":17},{"c":1,"s":"d","r":18,"v":6},{"c":1,"s":"d","r":24,"v":0.4},
{"c":1,"s":"e","r":0.02,"v":50000},{"c":1,"s":"e","r":0.04,"v":40000},{"c":1,"s":"e","r":0.08,"v":30000},{"c":1,"s":"e","r":0.15,"v":21000},{"c":1,"s":"e","r":0.3,"v":11600},{"c":1,"s":"e","r":0.6,"v":6200},{"c":1,"s":"e","r":1,"v":3400},{"c":1,"s":"e","r":2,"v":1000},{"c":1,"s":"e","r":4,"v":330},{"c":1,"s":"e","r":7,"v":140},{"c":1,"s":"e","r":10,"v":60},{"c":1,"s":"e","r":14,"v":17},{"c":1,"s":"e","r":18,"v":6},{"c":1,"s":"e","r":24,"v":0.4},
{"c":1,"s":"f","r":0.02,"v":56000},{"c":1,"s":"f","r":0.04,"v":44000},{"c":1,"s":"f","r":0.08,"v":32000},{"c":1,"s":"f","r":0.15,"v":22000},{"c":1,"s":"f","r":0.3,"v":11800},{"c":1,"s":"f","r":0.6,"v":6200},{"c":1,"s":"f","r":1,"v":3400},{"c":1,"s":"f","r":2,"v":1000},{"c":1,"s":"f","r":4,"v":330},{"c":1,"s":"f","r":7,"v":140},{"c":1,"s":"f","r":10,"v":60},{"c":1,"s":"f","r":14,"v":17},{"c":1,"s":"f","r":18,"v":6.5},{"c":1,"s":"f","r":24,"v":0.4},
{"c":1,"s":"g","r":0.02,"v":69000},{"c":1,"s":"g","r":0.04,"v":50000},{"c":1,"s":"g","r":0.08,"v":34000},{"c":1,"s":"g","r":0.15,"v":23000},{"c":1,"s":"g","r":0.3,"v":12000},{"c":1,"s":"g","r":0.6,"v":6300},{"c":1,"s":"g","r":1,"v":3400},{"c":1,"s":"g","r":2,"v":1000},{"c":1,"s":"g","r":4,"v":330},{"c":1,"s":"g","r":7,"v":140},{"c":1,"s":"g","r":10,"v":62},{"c":1,"s":"g","r":14,"v":18},{"c":1,"s":"g","r":18,"v":7},{"c":1,"s":"g","r":24,"v":0.45},
{"c":2,"s":"a","r":0.02,"v":18000},{"c":2,"s":"a","r":0.04,"v":17500},{"c":2,"s":"a","r":0.08,"v":17000},{"c":2,"s":"a","r":0.15,"v":14000},{"c":2,"s":"a","r":0.3,"v":10500},{"c":2,"s":"a","r":0.6,"v":5500},{"c":2,"s":"a","r":1,"v":3000},{"c":2,"s":"a","r":2,"v":940},{"c":2,"s":"a","r":4,"v":270},{"c":2,"s":"a","r":7,"v":95},{"c":2,"s":"a","r":10,"v":40},{"c":2,"s":"a","r":14,"v":11},{"c":2,"s":"a","r":18,"v":2.0},{"c":2,"s":"a","r":24,"v":0.3},
{"c":2,"s":"b","r":0.02,"v":19500},{"c":2,"s":"b","r":0.04,"v":18500},{"c":2,"s":"b","r":0.08,"v":17500},{"c":2,"s":"b","r":0.15,"v":14500},{"c":2,"s":"b","r":0.3,"v":10700},{"c":2,"s":"b","r":0.6,"v":5600},{"c":2,"s":"b","r":1,"v":3000},{"c":2,"s":"b","r":2,"v":940},{"c":2,"s":"b","r":4,"v":260},{"c":2,"s":"b","r":7,"v":93},{"c":2,"s":"b","r":10,"v":40},{"c":2,"s":"b","r":14,"v":11},{"c":2,"s":"b","r":18,"v":2.1},{"c":2,"s":"b","r":24,"v":0.3},
{"c":2,"s":"c","r":0.02,"v":22000},{"c":2,"s":"c","r":0.04,"v":20000},{"c":2,"s":"c","r":0.08,"v":18000},{"c":2,"s":"c","r":0.15,"v":15000},{"c":2,"s":"c","r":0.3,"v":10800},{"c":2,"s":"c","r":0.6,"v":5600},{"c":2,"s":"c","r":1,"v":3000},{"c":2,"s":"c","r":2,"v":940},{"c":2,"s":"c","r":4,"v":255},{"c":2,"s":"c","r":7,"v":92},{"c":2,"s":"c","r":10,"v":40},{"c":2,"s":"c","r":14,"v":11},{"c":2,"s":"c","r":18,"v":2.1},{"c":2,"s":"c","r":24,"v":0.3},
{"c":2,"s":"d","r":0.02,"v":24000},{"c":2,"s":"d","r":0.04,"v":22000},{"c":2,"s":"d","r":0.08,"v":19000},{"c":2,"s":"d","r":0.15,"v":15500},{"c":2,"s":"d","r":0.3,"v":11000},{"c":2,"s":"d","r":0.6,"v":5600},{"c":2,"s":"d","r":1,"v":3000},{"c":2,"s":"d","r":2,"v":930},{"c":2,"s":"d","r":4,"v":250},{"c":2,"s":"d","r":7,"v":90},{"c":2,"s":"d","r":10,"v":40},{"c":2,"s":"d","r":14,"v":11},{"c":2,"s":"d","r":18,"v":2.1},{"c":2,"s":"d","r":24,"v":0.3},
{"c":2,"s":"e","r":0.02,"v":33000},{"c":2,"s":"e","r":0.04,"v":28000},{"c":2,"s":"e","r":0.08,"v":23000},{"c":2,"s":"e","r":0.15,"v":17000},{"c":2,"s":"e","r":0.3,"v":11200},{"c":2,"s":"e","r":0.6,"v":5600},{"c":2,"s":"e","r":1,"v":3000},{"c":2,"s":"e","r":2,"v":940},{"c":2,"s":"e","r":4,"v":260},{"c":2,"s":"e","r":7,"v":93},{"c":2,"s":"e","r":10,"v":40},{"c":2,"s":"e","r":14,"v":11},{"c":2,"s":"e","r":18,"v":2.1},{"c":2,"s":"e","r":24,"v":0.3},
{"c":2,"s":"f","r":0.02,"v":39000},{"c":2,"s":"f","r":0.04,"v":32000},{"c":2,"s":"f","r":0.08,"v":25000},{"c":2,"s":"f","r":0.15,"v":18000},{"c":2,"s":"f","r":0.3,"v":11400},{"c":2,"s":"f","r":0.6,"v":5700},{"c":2,"s":"f","r":1,"v":3000},{"c":2,"s":"f","r":2,"v":940},{"c":2,"s":"f","r":4,"v":260},{"c":2,"s":"f","r":7,"v":93},{"c":2,"s":"f","r":10,"v":41},{"c":2,"s":"f","r":14,"v":11.5},{"c":2,"s":"f","r":18,"v":2.2},{"c":2,"s":"f","r":24,"v":0.3},
{"c":2,"s":"g","r":0.02,"v":46000},{"c":2,"s":"g","r":0.04,"v":36000},{"c":2,"s":"g","r":0.08,"v":27000},{"c":2,"s":"g","r":0.15,"v":19000},{"c":2,"s":"g","r":0.3,"v":11600},{"c":2,"s":"g","r":0.6,"v":5700},{"c":2,"s":"g","r":1,"v":3000},{"c":2,"s":"g","r":2,"v":940},{"c":2,"s":"g","r":4,"v":260},{"c":2,"s":"g","r":7,"v":93},{"c":2,"s":"g","r":10,"v":42},{"c":2,"s":"g","r":14,"v":12},{"c":2,"s":"g","r":18,"v":2.3},{"c":2,"s":"g","r":24,"v":0.3},
{"c":3,"s":"a","r":0.02,"v":17000},{"c":3,"s":"a","r":0.04,"v":16500},{"c":3,"s":"a","r":0.08,"v":16000},{"c":3,"s":"a","r":0.15,"v":13000},{"c":3,"s":"a","r":0.3,"v":9200},{"c":3,"s":"a","r":0.6,"v":5500},{"c":3,"s":"a","r":1,"v":3000},{"c":3,"s":"a","r":2,"v":950},{"c":3,"s":"a","r":4,"v":340},{"c":3,"s":"a","r":7,"v":97},{"c":3,"s":"a","r":10,"v":40},{"c":3,"s":"a","r":14,"v":12},{"c":3,"s":"a","r":18,"v":3},{"c":3,"s":"a","r":24,"v":0.3},
{"c":3,"s":"b","r":0.02,"v":18000},{"c":3,"s":"b","r":0.04,"v":17500},{"c":3,"s":"b","r":0.08,"v":16500},{"c":3,"s":"b","r":0.15,"v":13500},{"c":3,"s":"b","r":0.3,"v":9300},{"c":3,"s":"b","r":0.6,"v":5600},{"c":3,"s":"b","r":1,"v":3000},{"c":3,"s":"b","r":2,"v":950},{"c":3,"s":"b","r":4,"v":330},{"c":3,"s":"b","r":7,"v":95},{"c":3,"s":"b","r":10,"v":40},{"c":3,"s":"b","r":14,"v":12},{"c":3,"s":"b","r":18,"v":3},{"c":3,"s":"b","r":24,"v":0.3},
{"c":3,"s":"c","r":0.02,"v":19000},{"c":3,"s":"c","r":0.04,"v":18000},{"c":3,"s":"c","r":0.08,"v":17000},{"c":3,"s":"c","r":0.15,"v":14000},{"c":3,"s":"c","r":0.3,"v":9400},{"c":3,"s":"c","r":0.6,"v":5600},{"c":3,"s":"c","r":1,"v":3000},{"c":3,"s":"c","r":2,"v":950},{"c":3,"s":"c","r":4,"v":330},{"c":3,"s":"c","r":7,"v":95},{"c":3,"s":"c","r":10,"v":40},{"c":3,"s":"c","r":14,"v":12},{"c":3,"s":"c","r":18,"v":3},{"c":3,"s":"c","r":24,"v":0.3},
{"c":3,"s":"d","r":0.02,"v":21000},{"c":3,"s":"d","r":0.04,"v":19000},{"c":3,"s":"d","r":0.08,"v":17500},{"c":3,"s":"d","r":0.15,"v":14500},{"c":3,"s":"d","r":0.3,"v":9500},{"c":3,"s":"d","r":0.6,"v":5600},{"c":3,"s":"d","r":1,"v":3000},{"c":3,"s":"d","r":2,"v":940},{"c":3,"s":"d","r":4,"v":320},{"c":3,"s":"d","r":7,"v":93},{"c":3,"s":"d","r":10,"v":40},{"c":3,"s":"d","r":14,"v":12},{"c":3,"s":"d","r":18,"v":3},{"c":3,"s":"d","r":24,"v":0.3},
{"c":3,"s":"e","r":0.02,"v":24000},{"c":3,"s":"e","r":0.04,"v":22000},{"c":3,"s":"e","r":0.08,"v":19000},{"c":3,"s":"e","r":0.15,"v":15000},{"c":3,"s":"e","r":0.3,"v":9600},{"c":3,"s":"e","r":0.6,"v":5600},{"c":3,"s":"e","r":1,"v":3000},{"c":3,"s":"e","r":2,"v":950},{"c":3,"s":"e","r":4,"v":330},{"c":3,"s":"e","r":7,"v":95},{"c":3,"s":"e","r":10,"v":40},{"c":3,"s":"e","r":14,"v":12},{"c":3,"s":"e","r":18,"v":3},{"c":3,"s":"e","r":24,"v":0.3},
{"c":3,"s":"f","r":0.02,"v":28000},{"c":3,"s":"f","r":0.04,"v":24000},{"c":3,"s":"f","r":0.08,"v":20000},{"c":3,"s":"f","r":0.15,"v":15500},{"c":3,"s":"f","r":0.3,"v":9800},{"c":3,"s":"f","r":0.6,"v":5700},{"c":3,"s":"f","r":1,"v":3000},{"c":3,"s":"f","r":2,"v":950},{"c":3,"s":"f","r":4,"v":330},{"c":3,"s":"f","r":7,"v":95},{"c":3,"s":"f","r":10,"v":41},{"c":3,"s":"f","r":14,"v":12.5},{"c":3,"s":"f","r":18,"v":3.1},{"c":3,"s":"f","r":24,"v":0.3},
{"c":3,"s":"g","r":0.02,"v":30000},{"c":3,"s":"g","r":0.04,"v":26000},{"c":3,"s":"g","r":0.08,"v":21000},{"c":3,"s":"g","r":0.15,"v":16000},{"c":3,"s":"g","r":0.3,"v":10000},{"c":3,"s":"g","r":0.6,"v":5700},{"c":3,"s":"g","r":1,"v":3000},{"c":3,"s":"g","r":2,"v":950},{"c":3,"s":"g","r":4,"v":330},{"c":3,"s":"g","r":7,"v":95},{"c":3,"s":"g","r":10,"v":42},{"c":3,"s":"g","r":14,"v":13},{"c":3,"s":"g","r":18,"v":3.2},{"c":3,"s":"g","r":24,"v":0.3}
]
},
"columns":3,
"spacing":0,
"bounds":"flush",
"resolve":{"scale":{"color":"independent"},"legend":{"color":"independent"}},
"concat":[
{"width":231,"height":192,"title":"S2B_a(0)","layer":[
{"data":{"name":"v"},"transform":[{"filter":"datum.c==1&&datum.k=='band'"}],"mark":{"type":"rect","color":"#cbcbcb"},"encoding":{"x":{"field":"r","type":"quantitative","scale":{"type":"log","domain":[0.0188,28.5],"nice":false},"axis":null},"x2":{"field":"r2"}}},
{"data":{"name":"m"},"transform":[{"filter":"datum.c==1"}],"mark":{"type":"line","clip":true,"strokeWidth":1.5},"encoding":{"x":{"field":"r","type":"quantitative","scale":{"type":"log","domain":[0.0188,28.5],"nice":false},"axis":{"orient":"bottom","values":[0.1,1,10],"labels":false,"title":null}},"y":{"field":"v","type":"quantitative","scale":{"domain":[0,8.9],"nice":false},"axis":{"orient":"left","tickCount":9,"title":"M (10⁹M⊙)"}},"color":{"field":"s","type":"nominal","scale":{"domain":["a","b","c","d","e","f","g"],"range":["#000000","#1d4f8e","#6393cf","#a8cdf3","#8e0b0b","#d33d3a","#f5857a"]},"legend":null}}},
{"data":{"name":"v"},"transform":[{"filter":"datum.c==1&&datum.k!='band'"}],"mark":{"type":"rule","color":"black","strokeWidth":1.3},"encoding":{"x":{"field":"r","type":"quantitative","scale":{"type":"log","domain":[0.0188,28.5],"nice":false},"axis":null},"strokeDash":{"field":"k","type":"nominal","scale":{"domain":["dot","dash"],"range":[[1.5,2.5],[5.5,2.4]]},"legend":null}}},
{"data":{"name":"ax"},"mark":{"type":"point","opacity":0},"encoding":{"x":{"field":"r","type":"quantitative","scale":{"type":"log","domain":[0.0188,28.5],"nice":false},"axis":{"orient":"top","values":[0.1,1,10],"labels":false,"title":null}},"y":{"field":"v","type":"quantitative","scale":{"domain":[0,8.9],"nice":false},"axis":{"orient":"right","tickCount":9,"labels":false,"title":null}}}},
{"data":{"name":"ax"},"mark":{"type":"point","opacity":0},"encoding":{"x":{"field":"r","type":"quantitative","scale":{"type":"log","domain":[0.0188,28.5],"nice":false},"axis":{"orient":"bottom","tickCount":10,"tickSize":-2,"labels":false,"title":null}},"y":{"field":"v","type":"quantitative","scale":{"domain":[0,8.9],"nice":false},"axis":{"orient":"left","tickCount":44,"tickSize":-2,"labels":false,"title":null}}}},
{"data":{"name":"ax"},"mark":{"type":"point","opacity":0},"encoding":{"x":{"field":"r","type":"quantitative","scale":{"type":"log","domain":[0.0188,28.5],"nice":false},"axis":{"orient":"top","tickCount":10,"tickSize":-2,"labels":false,"title":null}},"y":{"field":"v","type":"quantitative","scale":{"domain":[0,8.9],"nice":false},"axis":{"orient":"right","tickCount":44,"tickSize":-2,"labels":false,"title":null}}}}
],"resolve":{"axis":{"x":"independent","y":"independent"}}},
{"width":231,"height":192,"title":"SB_a(0)","layer":[
{"data":{"name":"v"},"transform":[{"filter":"datum.c==2&&datum.k=='band'"}],"mark":{"type":"rect","color":"#cbcbcb"},"encoding":{"x":{"field":"r","type":"quantitative","scale":{"type":"log","domain":[0.0188,28.5],"nice":false},"axis":null},"x2":{"field":"r2"}}},
{"data":{"name":"m"},"transform":[{"filter":"datum.c==2"}],"mark":{"type":"line","clip":true,"strokeWidth":1.5},"encoding":{"x":{"field":"r","type":"quantitative","scale":{"type":"log","domain":[0.0188,28.5],"nice":false},"axis":{"orient":"bottom","values":[0.1,1,10],"labels":false,"title":null}},"y":{"field":"v","type":"quantitative","scale":{"domain":[0,8.9],"nice":false},"axis":{"orient":"left","tickCount":9,"labels":false,"title":null}},"color":{"field":"s","type":"nominal","scale":{"domain":["a","b","c","d","e","f","g"],"range":["#000000","#1d4f8e","#6393cf","#a8cdf3","#8e0b0b","#d33d3a","#f5857a"]},"legend":null}}},
{"data":{"name":"v"},"transform":[{"filter":"datum.c==2&&datum.k!='band'"}],"mark":{"type":"rule","color":"black","strokeWidth":1.3},"encoding":{"x":{"field":"r","type":"quantitative","scale":{"type":"log","domain":[0.0188,28.5],"nice":false},"axis":null},"strokeDash":{"field":"k","type":"nominal","scale":{"domain":["dot","dash"],"range":[[1.5,2.5],[5.5,2.4]]},"legend":null}}},
{"data":{"name":"ax"},"mark":{"type":"point","opacity":0},"encoding":{"x":{"field":"r","type":"quantitative","scale":{"type":"log","domain":[0.0188,28.5],"nice":false},"axis":{"orient":"top","values":[0.1,1,10],"labels":false,"title":null}},"y":{"field":"v","type":"quantitative","scale":{"domain":[0,8.9],"nice":false},"axis":{"orient":"right","tickCount":9,"labels":false,"title":null}}}},
{"data":{"name":"ax"},"mark":{"type":"point","opacity":0},"encoding":{"x":{"field":"r","type":"quantitative","scale":{"type":"log","domain":[0.0188,28.5],"nice":false},"axis":{"orient":"bottom","tickCount":10,"tickSize":-2,"labels":false,"title":null}},"y":{"field":"v","type":"quantitative","scale":{"domain":[0,8.9],"nice":false},"axis":{"orient":"left","tickCount":44,"tickSize":-2,"labels":false,"title":null}}}},
{"data":{"name":"ax"},"mark":{"type":"point","opacity":0},"encoding":{"x":{"field":"r","type":"quantitative","scale":{"type":"log","domain":[0.0188,28.5],"nice":false},"axis":{"orient":"top","tickCount":10,"tickSize":-2,"labels":false,"title":null}},"y":{"field":"v","type":"quantitative","scale":{"domain":[0,8.9],"nice":false},"axis":{"orient":"right","tickCount":44,"tickSize":-2,"labels":false,"title":null}}}}
],"resolve":{"axis":{"x":"independent","y":"independent"}}},
{"width":231,"height":192,"title":"SB_b(0)","layer":[
{"data":{"name":"v"},"transform":[{"filter":"datum.c==3&&datum.k=='band'"}],"mark":{"type":"rect","color":"#cbcbcb"},"encoding":{"x":{"field":"r","type":"quantitative","scale":{"type":"log","domain":[0.0188,28.5],"nice":false},"axis":null},"x2":{"field":"r2"}}},
{"data":{"name":"m"},"transform":[{"filter":"datum.c==3"}],"mark":{"type":"line","clip":true,"strokeWidth":1.5},"encoding":{"x":{"field":"r","type":"quantitative","scale":{"type":"log","domain":[0.0188,28.5],"nice":false},"axis":{"orient":"bottom","values":[0.1,1,10],"labels":false,"title":null}},"y":{"field":"v","type":"quantitative","scale":{"domain":[0,8.9],"nice":false},"axis":{"orient":"left","tickCount":9,"labels":false,"title":null}},"color":{"field":"s","type":"nominal","scale":{"domain":["a","b","c","d","e","f","g"],"range":["#000000","#1d4f8e","#6393cf","#a8cdf3","#8e0b0b","#d33d3a","#f5857a"]},"legend":null}}},
{"data":{"name":"v"},"transform":[{"filter":"datum.c==3&&datum.k!='band'"}],"mark":{"type":"rule","color":"black","strokeWidth":1.3},"encoding":{"x":{"field":"r","type":"quantitative","scale":{"type":"log","domain":[0.0188,28.5],"nice":false},"axis":null},"strokeDash":{"field":"k","type":"nominal","scale":{"domain":["dot","dash"],"range":[[1.5,2.5],[5.5,2.4]]},"legend":null}}},
{"data":{"name":"ax"},"mark":{"type":"point","opacity":0},"encoding":{"x":{"field":"r","type":"quantitative","scale":{"type":"log","domain":[0.0188,28.5],"nice":false},"axis":{"orient":"top","values":[0.1,1,10],"labels":false,"title":null}},"y":{"field":"v","type":"quantitative","scale":{"domain":[0,8.9],"nice":false},"axis":{"orient":"right","tickCount":9,"labels":false,"title":null}}}},
{"data":{"name":"ax"},"mark":{"type":"point","opacity":0},"encoding":{"x":{"field":"r","type":"quantitative","scale":{"type":"log","domain":[0.0188,28.5],"nice":false},"axis":{"orient":"bottom","tickCount":10,"tickSize":-2,"labels":false,"title":null}},"y":{"field":"v","type":"quantitative","scale":{"domain":[0,8.9],"nice":false},"axis":{"orient":"left","tickCount":44,"tickSize":-2,"labels":false,"title":null}}}},
{"data":{"name":"ax"},"mark":{"type":"point","opacity":0},"encoding":{"x":{"field":"r","type":"quantitative","scale":{"type":"log","domain":[0.0188,28.5],"nice":false},"axis":{"orient":"top","tickCount":10,"tickSize":-2,"labels":false,"title":null}},"y":{"field":"v","type":"quantitative","scale":{"domain":[0,8.9],"nice":false},"axis":{"orient":"right","tickCount":44,"tickSize":-2,"labels":false,"title":null}}}}
],"resolve":{"axis":{"x":"independent","y":"independent"}}},
{"width":231,"height":192,"layer":[
{"data":{"name":"v"},"transform":[{"filter":"datum.c==1&&datum.k=='band'"}],"mark":{"type":"rect","color":"#cbcbcb"},"encoding":{"x":{"field":"r","type":"quantitative","scale":{"type":"log","domain":[0.0188,28.5],"nice":false},"axis":null},"x2":{"field":"r2"}}},
{"data":{"name":"z"},"mark":{"type":"rule","color":"black","strokeWidth":1.5},"encoding":{"y":{"field":"v","type":"quantitative","scale":{"domain":[-19.75,8.95],"nice":false},"axis":null}}},
{"data":{"name":"d"},"transform":[{"filter":"datum.c==1"}],"mark":{"type":"line","clip":true,"strokeWidth":1.5},"encoding":{"x":{"field":"r","type":"quantitative","scale":{"type":"log","domain":[0.0188,28.5],"nice":false},"axis":{"orient":"bottom","values":[0.1,1,10],"labels":false,"title":null}},"y":{"field":"v","type":"quantitative","scale":{"domain":[-19.75,8.95],"nice":false},"axis":{"orient":"left","tickCount":6,"title":"ΔM (10⁸M⊙)"}},"color":{"field":"s","type":"nominal","scale":{"domain":["a","b","c","d","e","f","g"],"range":["#000000","#1d4f8e","#6393cf","#a8cdf3","#8e0b0b","#d33d3a","#f5857a"]},"legend":null}}},
{"data":{"name":"v"},"transform":[{"filter":"datum.c==1&&datum.k!='band'"}],"mark":{"type":"rule","color":"black","strokeWidth":1.3},"encoding":{"x":{"field":"r","type":"quantitative","scale":{"type":"log","domain":[0.0188,28.5],"nice":false},"axis":null},"strokeDash":{"field":"k","type":"nominal","scale":{"domain":["dot","dash"],"range":[[1.5,2.5],[5.5,2.4]]},"legend":null}}},
{"data":{"name":"ax"},"mark":{"type":"point","opacity":0},"encoding":{"x":{"field":"r","type":"quantitative","scale":{"type":"log","domain":[0.0188,28.5],"nice":false},"axis":{"orient":"top","values":[0.1,1,10],"labels":false,"title":null}},"y":{"field":"v","type":"quantitative","scale":{"domain":[-19.75,8.95],"nice":false},"axis":{"orient":"right","tickCount":6,"labels":false,"title":null}}}},
{"data":{"name":"ax"},"mark":{"type":"point","opacity":0},"encoding":{"x":{"field":"r","type":"quantitative","scale":{"type":"log","domain":[0.0188,28.5],"nice":false},"axis":{"orient":"bottom","tickCount":10,"tickSize":-2,"labels":false,"title":null}},"y":{"field":"v","type":"quantitative","scale":{"domain":[-19.75,8.95],"nice":false},"axis":{"orient":"left","tickCount":28,"tickSize":-2,"labels":false,"title":null}}}},
{"data":{"name":"ax"},"mark":{"type":"point","opacity":0},"encoding":{"x":{"field":"r","type":"quantitative","scale":{"type":"log","domain":[0.0188,28.5],"nice":false},"axis":{"orient":"top","tickCount":10,"tickSize":-2,"labels":false,"title":null}},"y":{"field":"v","type":"quantitative","scale":{"domain":[-19.75,8.95],"nice":false},"axis":{"orient":"right","tickCount":28,"tickSize":-2,"labels":false,"title":null}}}}
],"resolve":{"axis":{"x":"independent","y":"independent"}}},
{"width":231,"height":192,"layer":[
{"data":{"name":"v"},"transform":[{"filter":"datum.c==2&&datum.k=='band'"}],"mark":{"type":"rect","color":"#cbcbcb"},"encoding":{"x":{"field":"r","type":"quantitative","scale":{"type":"log","domain":[0.0188,28.5],"nice":false},"axis":null},"x2":{"field":"r2"}}},
{"data":{"name":"z"},"mark":{"type":"rule","color":"black","strokeWidth":1.5},"encoding":{"y":{"field":"v","type":"quantitative","scale":{"domain":[-19.75,8.95],"nice":false},"axis":null}}},
{"data":{"name":"d"},"transform":[{"filter":"datum.c==2"}],"mark":{"type":"line","clip":true,"strokeWidth":1.5},"encoding":{"x":{"field":"r","type":"quantitative","scale":{"type":"log","domain":[0.0188,28.5],"nice":false},"axis":{"orient":"bottom","values":[0.1,1,10],"labels":false,"title":null}},"y":{"field":"v","type":"quantitative","scale":{"domain":[-19.75,8.95],"nice":false},"axis":{"orient":"left","tickCount":6,"labels":false,"title":null}},"color":{"field":"s","type":"nominal","scale":{"domain":["a","b","c","d","e","f","g"],"range":["#000000","#1d4f8e","#6393cf","#a8cdf3","#8e0b0b","#d33d3a","#f5857a"]},"legend":null}}},
{"data":{"name":"v"},"transform":[{"filter":"datum.c==2&&datum.k!='band'"}],"mark":{"type":"rule","color":"black","strokeWidth":1.3},"encoding":{"x":{"field":"r","type":"quantitative","scale":{"type":"log","domain":[0.0188,28.5],"nice":false},"axis":null},"strokeDash":{"field":"k","type":"nominal","scale":{"domain":["dot","dash"],"range":[[1.5,2.5],[5.5,2.4]]},"legend":null}}},
{"data":{"name":"ax"},"mark":{"type":"point","opacity":0},"encoding":{"x":{"field":"r","type":"quantitative","scale":{"type":"log","domain":[0.0188,28.5],"nice":false},"axis":{"orient":"top","values":[0.1,1,10],"labels":false,"title":null}},"y":{"field":"v","type":"quantitative","scale":{"domain":[-19.75,8.95],"nice":false},"axis":{"orient":"right","tickCount":6,"labels":false,"title":null}}}},
{"data":{"name":"ax"},"mark":{"type":"point","opacity":0},"encoding":{"x":{"field":"r","type":"quantitative","scale":{"type":"log","domain":[0.0188,28.5],"nice":false},"axis":{"orient":"bottom","tickCount":10,"tickSize":-2,"labels":false,"title":null}},"y":{"field":"v","type":"quantitative","scale":{"domain":[-19.75,8.95],"nice":false},"axis":{"orient":"left","tickCount":28,"tickSize":-2,"labels":false,"title":null}}}},
{"data":{"name":"ax"},"mark":{"type":"point","opacity":0},"encoding":{"x":{"field":"r","type":"quantitative","scale":{"type":"log","domain":[0.0188,28.5],"nice":false},"axis":{"orient":"top","tickCount":10,"tickSize":-2,"labels":false,"title":null}},"y":{"field":"v","type":"quantitative","scale":{"domain":[-19.75,8.95],"nice":false},"axis":{"orient":"right","tickCount":28,"tickSize":-2,"labels":false,"title":null}}}}
],"resolve":{"axis":{"x":"independent","y":"independent"}}},
{"width":231,"height":192,"layer":[
{"data":{"name":"v"},"transform":[{"filter":"datum.c==3&&datum.k=='band'"}],"mark":{"type":"rect","color":"#cbcbcb"},"encoding":{"x":{"field":"r","type":"quantitative","scale":{"type":"log","domain":[0.0188,28.5],"nice":false},"axis":null},"x2":{"field":"r2"}}},
{"data":{"name":"z"},"mark":{"type":"rule","color":"black","strokeWidth":1.5},"encoding":{"y":{"field":"v","type":"quantitative","scale":{"domain":[-19.75,8.95],"nice":false},"axis":null}}},
{"data":{"name":"d"},"transform":[{"filter":"datum.c==3"}],"mark":{"type":"line","clip":true,"strokeWidth":1.5},"encoding":{"x":{"field":"r","type":"quantitative","scale":{"type":"log","domain":[0.0188,28.5],"nice":false},"axis":{"orient":"bottom","values":[0.1,1,10],"labels":false,"title":null}},"y":{"field":"v","type":"quantitative","scale":{"domain":[-19.75,8.95],"nice":false},"axis":{"orient":"left","tickCount":6,"labels":false,"title":null}},"color":{"field":"s","type":"nominal","scale":{"domain":["a","b","c","d","e","f","g"],"range":["#000000","#1d4f8e","#6393cf","#a8cdf3","#8e0b0b","#d33d3a","#f5857a"]},"legend":null}}},
{"data":{"name":"v"},"transform":[{"filter":"datum.c==3&&datum.k!='band'"}],"mark":{"type":"rule","color":"black","strokeWidth":1.3},"encoding":{"x":{"field":"r","type":"quantitative","scale":{"type":"log","domain":[0.0188,28.5],"nice":false},"axis":null},"strokeDash":{"field":"k","type":"nominal","scale":{"domain":["dot","dash"],"range":[[1.5,2.5],[5.5,2.4]]},"legend":null}}},
{"data":{"name":"ax"},"mark":{"type":"point","opacity":0},"encoding":{"x":{"field":"r","type":"quantitative","scale":{"type":"log","domain":[0.0188,28.5],"nice":false},"axis":{"orient":"top","values":[0.1,1,10],"labels":false,"title":null}},"y":{"field":"v","type":"quantitative","scale":{"domain":[-19.75,8.95],"nice":false},"axis":{"orient":"right","tickCount":6,"labels":false,"title":null}}}},
{"data":{"name":"ax"},"mark":{"type":"point","opacity":0},"encoding":{"x":{"field":"r","type":"quantitative","scale":{"type":"log","domain":[0.0188,28.5],"nice":false},"axis":{"orient":"bottom","tickCount":10,"tickSize":-2,"labels":false,"title":null}},"y":{"field":"v","type":"quantitative","scale":{"domain":[-19.75,8.95],"nice":false},"axis":{"orient":"left","tickCount":28,"tickSize":-2,"labels":false,"title":null}}}},
{"data":{"name":"ax"},"mark":{"type":"point","opacity":0},"encoding":{"x":{"field":"r","type":"quantitative","scale":{"type":"log","domain":[0.0188,28.5],"nice":false},"axis":{"orient":"top","tickCount":10,"tickSize":-2,"labels":false,"title":null}},"y":{"field":"v","type":"quantitative","scale":{"domain":[-19.75,8.95],"nice":false},"axis":{"orient":"right","tickCount":28,"tickSize":-2,"labels":false,"title":null}}}}
],"resolve":{"axis":{"x":"independent","y":"independent"}}},
{"width":231,"height":192,"layer":[
{"data":{"name":"v"},"transform":[{"filter":"datum.c==1&&datum.k=='band'"}],"mark":{"type":"rect","color":"#cbcbcb"},"encoding":{"x":{"field":"r","type":"quantitative","scale":{"type":"log","domain":[0.0188,28.5],"nice":false},"axis":null},"x2":{"field":"r2"}}},
{"data":{"name":"s3"},"transform":[{"filter":"datum.c==1"}],"mark":{"type":"line","clip":true,"strokeWidth":1.5},"encoding":{"x":{"field":"r","type":"quantitative","scale":{"type":"log","domain":[0.0188,28.5],"nice":false},"axis":{"orient":"bottom","values":[0.1,1,10],"labelExpr":"datum.value<0.5?'10⁻¹':datum.value<5?'10⁰':'10¹'","title":"R (kpc)"}},"y":{"field":"v","type":"quantitative","scale":{"type":"log","domain":[0.5,93000],"nice":false},"axis":{"orient":"left","values":[1,10,100,1000,10000],"labelExpr":"datum.value<5?'10⁰':datum.value<50?'10¹':datum.value<500?'10²':datum.value<5000?'10³':'10⁴'","title":"Σ (M⊙ pc⁻²)"}},"color":{"field":"s","type":"nominal","scale":{"domain":["a","b","c","d","e","f","g"],"range":["#000000","#1d4f8e","#6393cf","#a8cdf3","#8e0b0b","#d33d3a","#f5857a"]},"legend":{"orient":"none","legendX":4,"legendY":71,"title":null,"labelExpr":"datum.label=='a'?'t=2.8 Gyr':datum.label=='b'?'M_BH,max = 10⁻⁴M⋆, t = 3.7 Gyr':datum.label=='c'?'M_BH,max = 10⁻⁴M⋆, t = 4.7 Gyr':datum.label=='d'?'M_BH,max = 10⁻⁴M⋆, t = 7.4 Gyr':datum.label=='e'?'M_BH,max = 2 × 10−3M⋆, t = 3.7 Gyr':datum.label=='f'?'M_BH,max = 2 × 10−3M⋆, t = 4.7 Gyr':'M_BH,max = 2 × 10−3M⋆, t = 7.4 Gyr'","symbolType":"M-1,0H3","symbolStrokeWidth":2,"symbolSize":130,"labelFont":"DejaVu Sans","labelFontSize":9,"labelColor":"#000000","labelLimit":400,"labelOffset":16,"rowPadding":4,"padding":5,"strokeColor":"#cccccc","fillColor":"rgba(255,255,255,0.85)","cornerRadius":3}}}},
{"data":{"name":"v"},"transform":[{"filter":"datum.c==1&&datum.k!='band'"}],"mark":{"type":"rule","color":"black","strokeWidth":1.3},"encoding":{"x":{"field":"r","type":"quantitative","scale":{"type":"log","domain":[0.0188,28.5],"nice":false},"axis":null},"strokeDash":{"field":"k","type":"nominal","scale":{"domain":["dot","dash"],"range":[[1.5,2.5],[5.5,2.4]]},"legend":null}}},
{"data":{"name":"ax"},"mark":{"type":"point","opacity":0},"encoding":{"x":{"field":"r","type":"quantitative","scale":{"type":"log","domain":[0.0188,28.5],"nice":false},"axis":{"orient":"top","values":[0.1,1,10],"labels":false,"title":null}},"y":{"field":"v","type":"quantitative","scale":{"type":"log","domain":[0.5,93000],"nice":false},"axis":{"orient":"right","values":[1,10,100,1000,10000],"labels":false,"title":null}}}},
{"data":{"name":"ax"},"mark":{"type":"point","opacity":0},"encoding":{"x":{"field":"r","type":"quantitative","scale":{"type":"log","domain":[0.0188,28.5],"nice":false},"axis":{"orient":"bottom","tickCount":10,"tickSize":-2,"labels":false,"title":null}},"y":{"field":"v","type":"quantitative","scale":{"type":"log","domain":[0.5,93000],"nice":false},"axis":{"orient":"left","tickCount":30,"tickSize":-2,"labels":false,"title":null}}}},
{"data":{"name":"ax"},"mark":{"type":"point","opacity":0},"encoding":{"x":{"field":"r","type":"quantitative","scale":{"type":"log","domain":[0.0188,28.5],"nice":false},"axis":{"orient":"top","tickCount":10,"tickSize":-2,"labels":false,"title":null}},"y":{"field":"v","type":"quantitative","scale":{"type":"log","domain":[0.5,93000],"nice":false},"axis":{"orient":"right","tickCount":30,"tickSize":-2,"labels":false,"title":null}}}}
],"resolve":{"axis":{"x":"independent","y":"independent"}}},
{"width":231,"height":192,"layer":[
{"data":{"name":"v"},"transform":[{"filter":"datum.c==2&&datum.k=='band'"}],"mark":{"type":"rect","color":"#cbcbcb"},"encoding":{"x":{"field":"r","type":"quantitative","scale":{"type":"log","domain":[0.0188,28.5],"nice":false},"axis":null},"x2":{"field":"r2"}}},
{"data":{"name":"s3"},"transform":[{"filter":"datum.c==2"}],"mark":{"type":"line","clip":true,"strokeWidth":1.5},"encoding":{"x":{"field":"r","type":"quantitative","scale":{"type":"log","domain":[0.0188,28.5],"nice":false},"axis":{"orient":"bottom","values":[0.1,1,10],"labelExpr":"datum.value<0.5?'10⁻¹':datum.value<5?'10⁰':'10¹'","title":"R (kpc)"}},"y":{"field":"v","type":"quantitative","scale":{"type":"log","domain":[0.5,93000],"nice":false},"axis":{"orient":"left","values":[1,10,100,1000,10000],"labels":false,"title":null}},"color":{"field":"s","type":"nominal","scale":{"domain":["a","b","c","d","e","f","g"],"range":["#000000","#1d4f8e","#6393cf","#a8cdf3","#8e0b0b","#d33d3a","#f5857a"]},"legend":null}}},
{"data":{"name":"v"},"transform":[{"filter":"datum.c==2&&datum.k!='band'"}],"mark":{"type":"rule","color":"black","strokeWidth":1.3},"encoding":{"x":{"field":"r","type":"quantitative","scale":{"type":"log","domain":[0.0188,28.5],"nice":false},"axis":null},"strokeDash":{"field":"k","type":"nominal","scale":{"domain":["dot","dash"],"range":[[1.5,2.5],[5.5,2.4]]},"legend":null}}},
{"data":{"name":"ax"},"mark":{"type":"point","opacity":0},"encoding":{"x":{"field":"r","type":"quantitative","scale":{"type":"log","domain":[0.0188,28.5],"nice":false},"axis":{"orient":"top","values":[0.1,1,10],"labels":false,"title":null}},"y":{"field":"v","type":"quantitative","scale":{"type":"log","domain":[0.5,93000],"nice":false},"axis":{"orient":"right","values":[1,10,100,1000,10000],"labels":false,"title":null}}}},
{"data":{"name":"ax"},"mark":{"type":"point","opacity":0},"encoding":{"x":{"field":"r","type":"quantitative","scale":{"type":"log","domain":[0.0188,28.5],"nice":false},"axis":{"orient":"bottom","tickCount":10,"tickSize":-2,"labels":false,"title":null}},"y":{"field":"v","type":"quantitative","scale":{"type":"log","domain":[0.5,93000],"nice":false},"axis":{"orient":"left","tickCount":30,"tickSize":-2,"labels":false,"title":null}}}},
{"data":{"name":"ax"},"mark":{"type":"point","opacity":0},"encoding":{"x":{"field":"r","type":"quantitative","scale":{"type":"log","domain":[0.0188,28.5],"nice":false},"axis":{"orient":"top","tickCount":10,"tickSize":-2,"labels":false,"title":null}},"y":{"field":"v","type":"quantitative","scale":{"type":"log","domain":[0.5,93000],"nice":false},"axis":{"orient":"right","tickCount":30,"tickSize":-2,"labels":false,"title":null}}}}
],"resolve":{"axis":{"x":"independent","y":"independent"}}},
{"width":231,"height":192,"layer":[
{"data":{"name":"v"},"transform":[{"filter":"datum.c==3&&datum.k=='band'"}],"mark":{"type":"rect","color":"#cbcbcb"},"encoding":{"x":{"field":"r","type":"quantitative","scale":{"type":"log","domain":[0.0188,28.5],"nice":false},"axis":null},"x2":{"field":"r2"}}},
{"data":{"name":"s3"},"transform":[{"filter":"datum.c==3"}],"mark":{"type":"line","clip":true,"strokeWidth":1.5},"encoding":{"x":{"field":"r","type":"quantitative","scale":{"type":"log","domain":[0.0188,28.5],"nice":false},"axis":{"orient":"bottom","values":[0.1,1,10],"labelExpr":"datum.value<0.5?'10⁻¹':datum.value<5?'10⁰':'10¹'","title":"R (kpc)"}},"y":{"field":"v","type":"quantitative","scale":{"type":"log","domain":[0.5,93000],"nice":false},"axis":{"orient":"left","values":[1,10,100,1000,10000],"labels":false,"title":null}},"color":{"field":"s","type":"nominal","scale":{"domain":["a","b","c","d","e","f","g"],"range":["#000000","#1d4f8e","#6393cf","#a8cdf3","#8e0b0b","#d33d3a","#f5857a"]},"legend":null}}},
{"data":{"name":"v"},"transform":[{"filter":"datum.c==3&&datum.k!='band'"}],"mark":{"type":"rule","color":"black","strokeWidth":1.3},"encoding":{"x":{"field":"r","type":"quantitative","scale":{"type":"log","domain":[0.0188,28.5],"nice":false},"axis":null},"strokeDash":{"field":"k","type":"nominal","scale":{"domain":["dot","dash"],"range":[[1.5,2.5],[5.5,2.4]]},"legend":null}}},
{"data":{"name":"ax"},"mark":{"type":"point","opacity":0},"encoding":{"x":{"field":"r","type":"quantitative","scale":{"type":"log","domain":[0.0188,28.5],"nice":false},"axis":{"orient":"top","values":[0.1,1,10],"labels":false,"title":null}},"y":{"field":"v","type":"quantitative","scale":{"type":"log","domain":[0.5,93000],"nice":false},"axis":{"orient":"right","values":[1,10,100,1000,10000],"labels":false,"title":null}}}},
{"data":{"name":"ax"},"mark":{"type":"point","opacity":0},"encoding":{"x":{"field":"r","type":"quantitative","scale":{"type":"log","domain":[0.0188,28.5],"nice":false},"axis":{"orient":"bottom","tickCount":10,"tickSize":-2,"labels":false,"title":null}},"y":{"field":"v","type":"quantitative","scale":{"type":"log","domain":[0.5,93000],"nice":false},"axis":{"orient":"left","tickCount":30,"tickSize":-2,"labels":false,"title":null}}}},
{"data":{"name":"ax"},"mark":{"type":"point","opacity":0},"encoding":{"x":{"field":"r","type":"quantitative","scale":{"type":"log","domain":[0.0188,28.5],"nice":false},"axis":{"orient":"top","tickCount":10,"tickSize":-2,"labels":false,"title":null}},"y":{"field":"v","type":"quantitative","scale":{"type":"log","domain":[0.5,93000],"nice":false},"axis":{"orient":"right","tickCount":30,"tickSize":-2,"labels":false,"title":null}}}}
],"resolve":{"axis":{"x":"independent","y":"independent"}}}
]
}
